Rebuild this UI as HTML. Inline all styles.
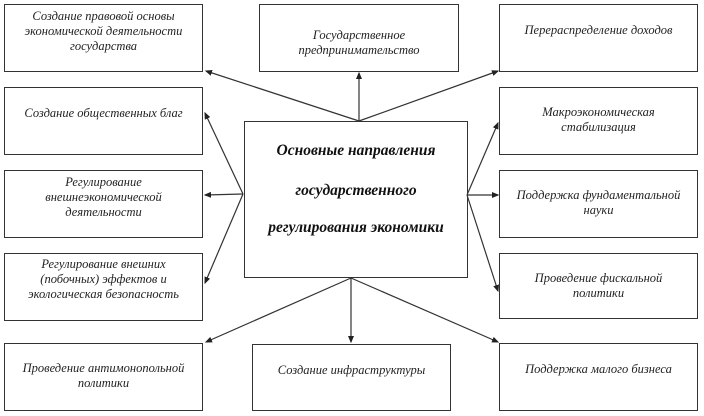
<!DOCTYPE html>
<html><head><meta charset="utf-8"><style>
body{margin:0;background:#fff;width:704px;height:416px;position:relative;overflow:hidden;font-family:"Liberation Serif","DejaVu Serif",serif;}
.b{position:absolute;border:1.5px solid #333;box-sizing:border-box;background:#fff;text-align:center;font-style:italic;font-size:12.5px;line-height:15px;color:#222;padding-top:4px;}
.c{position:absolute;left:244px;top:121px;width:224px;height:157px;border:1.5px solid #333;box-sizing:border-box;text-align:center;font-style:italic;font-weight:bold;font-size:15.5px;color:#111;}
.c div{position:absolute;left:0;right:0;}
svg{position:absolute;left:0;top:0;}
</style></head><body>
<svg width="704" height="416">
<defs><marker id="a" markerWidth="6" markerHeight="6" refX="5" refY="3" orient="auto"><path d="M0,0.5L6,3L0,5.5z" fill="#222"/></marker></defs>
<g stroke="#333" stroke-width="1.2" marker-end="url(#a)">
<line x1="359" y1="121" x2="359" y2="73"/>
<line x1="359" y1="121" x2="206" y2="71"/>
<line x1="359" y1="121" x2="498" y2="71"/>
<line x1="243" y1="194" x2="205" y2="113"/>
<line x1="243" y1="194" x2="205" y2="195"/>
<line x1="243" y1="194" x2="205" y2="283"/>
<line x1="467" y1="195" x2="498" y2="123"/>
<line x1="467" y1="195" x2="498" y2="195"/>
<line x1="467" y1="195" x2="498" y2="291"/>
<line x1="351" y1="278" x2="351" y2="342"/>
<line x1="351" y1="278" x2="206" y2="342"/>
<line x1="351" y1="278" x2="498" y2="342"/>
</g></svg>
<div class="b" style="left:4px;top:4px;width:199px;height:68px;">Создание правовой основы<br>экономической деятельности<br>государства</div>
<div class="b" style="left:259px;top:4px;width:200px;height:68px;padding-top:23px;">Государственное<br>предпринимательство</div>
<div class="b" style="left:499px;top:4px;width:199px;height:68px;padding-top:18px;">Перераспределение доходов</div>
<div class="b" style="left:4px;top:87px;width:199px;height:68px;padding-top:18px;">Создание общественных благ</div>
<div class="b" style="left:499px;top:87px;width:199px;height:68px;padding-top:17px;">Макроэкономическая<br>стабилизация</div>
<div class="b" style="left:4px;top:170px;width:199px;height:68px;">Регулирование<br>внешнеэкономической<br>деятельности</div>
<div class="b" style="left:499px;top:170px;width:199px;height:68px;padding-top:17px;">Поддержка фундаментальной<br>науки</div>
<div class="b" style="left:4px;top:253px;width:199px;height:68px;padding-top:3px;">Регулирование внешних<br>(побочных) эффектов и<br>экологическая безопасность</div>
<div class="b" style="left:499px;top:253px;width:199px;height:66px;padding-top:17px;">Проведение фискальной<br>политики</div>
<div class="b" style="left:4px;top:343px;width:199px;height:68px;padding-top:17px;">Проведение антимонопольной<br>политики</div>
<div class="b" style="left:252px;top:344px;width:199px;height:67px;padding-top:18px;">Создание инфраструктуры</div>
<div class="b" style="left:499px;top:343px;width:199px;height:68px;padding-top:18px;">Поддержка малого бизнеса</div>
<div class="c"><div style="top:20px">Основные направления</div><div style="top:60px">государственного</div><div style="top:97px">регулирования экономики</div></div>
</body></html>
